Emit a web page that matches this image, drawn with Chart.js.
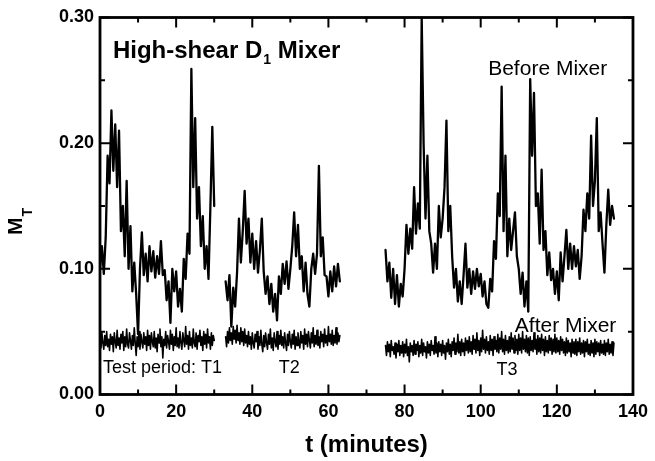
<!DOCTYPE html>
<html>
<head>
<meta charset="utf-8">
<script src="https://cdn.jsdelivr.net/npm/chart.js@4.4.1/dist/chart.umd.min.js"></script>
<style>
  html, body { margin: 0; padding: 0; background: #fff; }
  canvas { display: block; }
</style>
</head>
<body>
<canvas id="chart" width="655" height="461"></canvas>
<script>
// Axis tick values (minutes / mixing index)
const xTickValues = [0, 20, 40, 60, 80, 100, 120, 140];
const xMinorValues = [10, 30, 50, 70, 90, 110, 130];
const yTickValues = [0.0, 0.1, 0.2, 0.3];
const yMinorValues = [0.05, 0.15, 0.25];

// Sampling intervals (minutes) and start of each test period
const beforeStep = 0.5;
const afterStep = 0.25;
const startT1 = 0;
const startT2 = 33;
const startT3 = 75;

// Mixing index M_T upstream of the mixer
const beforeT1 = [
  0.100, 0.118, 0.096, 0.125, 0.190, 0.168, 0.226, 0.178, 0.215, 0.165,
  0.210, 0.130, 0.150, 0.110, 0.170, 0.100, 0.134, 0.082, 0.105, 0.080,
  0.048, 0.100, 0.129, 0.095, 0.112, 0.090, 0.118, 0.098, 0.114, 0.093,
  0.110, 0.096, 0.122, 0.095, 0.099, 0.075, 0.090, 0.057, 0.100, 0.082,
  0.098, 0.070, 0.084, 0.066, 0.108, 0.092, 0.128, 0.112, 0.259, 0.165,
  0.220, 0.140, 0.165, 0.118, 0.142, 0.100, 0.118, 0.092, 0.150, 0.213,
  0.150
];
const beforeT2 = [
  0.090, 0.075, 0.095, 0.054, 0.085, 0.070, 0.097, 0.140, 0.105, 0.130,
  0.162, 0.120, 0.140, 0.105, 0.128, 0.100, 0.122, 0.097, 0.115, 0.140,
  0.098, 0.080, 0.094, 0.072, 0.088, 0.066, 0.080, 0.059, 0.094, 0.080,
  0.104, 0.088, 0.106, 0.084, 0.100, 0.118, 0.145, 0.110, 0.135, 0.100,
  0.110, 0.082, 0.105, 0.080, 0.070, 0.100, 0.112, 0.096, 0.112, 0.182,
  0.110, 0.125, 0.095, 0.094, 0.078, 0.098, 0.082, 0.102, 0.086, 0.104,
  0.090
];
const beforeT3 = [
  0.115, 0.090, 0.105, 0.077, 0.100, 0.072, 0.095, 0.070, 0.088, 0.078,
  0.100, 0.135, 0.112, 0.132, 0.116, 0.165, 0.128, 0.152, 0.132, 0.300,
  0.200, 0.140, 0.190, 0.130, 0.120, 0.097, 0.120, 0.100, 0.150, 0.125,
  0.140, 0.165, 0.218, 0.130, 0.150, 0.110, 0.085, 0.100, 0.074, 0.090,
  0.072, 0.095, 0.120, 0.085, 0.100, 0.080, 0.098, 0.084, 0.100, 0.086,
  0.096, 0.078, 0.090, 0.072, 0.069, 0.092, 0.082, 0.122, 0.108, 0.160,
  0.142, 0.245, 0.130, 0.190, 0.110, 0.140, 0.115, 0.130, 0.145, 0.110,
  0.100, 0.080, 0.097, 0.070, 0.090, 0.066, 0.251, 0.190, 0.240, 0.150,
  0.160, 0.120, 0.179, 0.115, 0.130, 0.095, 0.113, 0.091, 0.100, 0.080,
  0.098, 0.075, 0.113, 0.090, 0.110, 0.131, 0.100, 0.120, 0.100, 0.118,
  0.102, 0.115, 0.092, 0.110, 0.147, 0.130, 0.160, 0.140, 0.206, 0.150,
  0.170, 0.220, 0.130, 0.145, 0.120, 0.097, 0.135, 0.163, 0.135, 0.150,
  0.140
];

// Mixing index M_T downstream of the mixer
const afterT1 = [
  0.045, 0.037, 0.049, 0.041, 0.036, 0.047, 0.039, 0.050, 0.038, 0.044,
  0.035, 0.048, 0.040, 0.046, 0.034, 0.049, 0.042, 0.037, 0.051, 0.039,
  0.045, 0.036, 0.048, 0.041, 0.050, 0.035, 0.046, 0.038, 0.052, 0.040,
  0.037, 0.049, 0.043, 0.036, 0.047, 0.039, 0.053, 0.041, 0.031, 0.046,
  0.038, 0.050, 0.036, 0.048, 0.042, 0.037, 0.049, 0.040, 0.046, 0.035,
  0.051, 0.039, 0.047, 0.036, 0.049, 0.042, 0.038, 0.050, 0.037, 0.045,
  0.034, 0.048, 0.041, 0.052, 0.038, 0.046, 0.029, 0.044, 0.039, 0.050,
  0.037, 0.047, 0.042, 0.036, 0.051, 0.040, 0.048, 0.035, 0.046, 0.039,
  0.053, 0.038, 0.045, 0.037, 0.050, 0.041, 0.036, 0.049, 0.043, 0.038,
  0.054, 0.040, 0.047, 0.036, 0.050, 0.039, 0.045, 0.037, 0.052, 0.041,
  0.038, 0.049, 0.036, 0.047, 0.042, 0.051, 0.039, 0.046, 0.035, 0.050,
  0.040, 0.048, 0.037, 0.052, 0.041, 0.046, 0.036, 0.049, 0.039, 0.047,
  0.043
];
const afterT2 = [
  0.046, 0.038, 0.050, 0.041, 0.053, 0.043, 0.049, 0.040, 0.054, 0.044,
  0.051, 0.041, 0.055, 0.043, 0.049, 0.040, 0.053, 0.042, 0.050, 0.039,
  0.052, 0.041, 0.047, 0.038, 0.050, 0.040, 0.046, 0.036, 0.049, 0.041,
  0.037, 0.048, 0.042, 0.050, 0.036, 0.046, 0.039, 0.051, 0.040, 0.034,
  0.047, 0.038, 0.049, 0.041, 0.036, 0.048, 0.040, 0.052, 0.037, 0.045,
  0.035, 0.049, 0.042, 0.038, 0.050, 0.036, 0.047, 0.040, 0.051, 0.039,
  0.046, 0.037, 0.049, 0.041, 0.035, 0.048, 0.039, 0.050, 0.042, 0.037,
  0.048, 0.040, 0.051, 0.036, 0.046, 0.039, 0.049, 0.042, 0.037, 0.050,
  0.041, 0.047, 0.036, 0.052, 0.040, 0.048, 0.038, 0.050, 0.043, 0.037,
  0.049, 0.041, 0.053, 0.038, 0.047, 0.040, 0.051, 0.039, 0.046, 0.037,
  0.050, 0.042, 0.048, 0.038, 0.052, 0.041, 0.047, 0.039, 0.054, 0.042,
  0.048, 0.040, 0.051, 0.039, 0.047, 0.041, 0.053, 0.040, 0.049, 0.042,
  0.047
];
const afterT3 = [
  0.039, 0.031, 0.042, 0.034, 0.040, 0.030, 0.043, 0.035, 0.038, 0.032,
  0.041, 0.029, 0.040, 0.034, 0.043, 0.031, 0.039, 0.033, 0.042, 0.030,
  0.040, 0.033, 0.044, 0.031, 0.038, 0.026, 0.041, 0.034, 0.039, 0.031,
  0.043, 0.032, 0.040, 0.035, 0.042, 0.030, 0.039, 0.033, 0.044, 0.031,
  0.041, 0.034, 0.038, 0.029, 0.042, 0.033, 0.040, 0.031, 0.043, 0.035,
  0.039, 0.032, 0.046, 0.033, 0.041, 0.030, 0.042, 0.034, 0.040, 0.031,
  0.043, 0.033, 0.039, 0.028, 0.041, 0.034, 0.044, 0.032, 0.040, 0.030,
  0.042, 0.035, 0.045, 0.032, 0.041, 0.034, 0.048, 0.033, 0.042, 0.031,
  0.044, 0.034, 0.041, 0.031, 0.045, 0.035, 0.043, 0.033, 0.046, 0.034,
  0.042, 0.032, 0.047, 0.036, 0.044, 0.033, 0.049, 0.035, 0.043, 0.031,
  0.045, 0.034, 0.051, 0.036, 0.044, 0.033, 0.046, 0.035, 0.042, 0.032,
  0.047, 0.035, 0.044, 0.031, 0.046, 0.036, 0.043, 0.034, 0.048, 0.033,
  0.045, 0.036, 0.050, 0.034, 0.044, 0.032, 0.047, 0.035, 0.043, 0.033,
  0.046, 0.034, 0.049, 0.036, 0.045, 0.033, 0.047, 0.035, 0.044, 0.032,
  0.048, 0.035, 0.045, 0.033, 0.050, 0.036, 0.044, 0.034, 0.047, 0.033,
  0.045, 0.031, 0.046, 0.035, 0.043, 0.034, 0.049, 0.036, 0.044, 0.032,
  0.047, 0.034, 0.045, 0.033, 0.048, 0.035, 0.044, 0.031, 0.046, 0.034,
  0.043, 0.033, 0.047, 0.035, 0.045, 0.032, 0.044, 0.034, 0.048, 0.033,
  0.045, 0.034, 0.043, 0.032, 0.046, 0.035, 0.044, 0.033, 0.042, 0.031,
  0.045, 0.033, 0.043, 0.034, 0.041, 0.030, 0.044, 0.033, 0.042, 0.032,
  0.044, 0.031, 0.042, 0.034, 0.045, 0.032, 0.041, 0.033, 0.043, 0.030,
  0.042, 0.034, 0.044, 0.032, 0.040, 0.031, 0.043, 0.033, 0.041, 0.030,
  0.044, 0.032, 0.042, 0.034, 0.041, 0.031, 0.043, 0.033, 0.040, 0.032,
  0.043, 0.031, 0.041, 0.034, 0.044, 0.032, 0.040, 0.033, 0.042, 0.031,
  0.041
];

// Pair each reading with its time stamp
function timeSeries(values, start, step) {
  return values.map((v, i) => ({ x: start + i * step, y: v }));
}

const trace = (values, start, step, width) => ({
  data: timeSeries(values, start, step),
  borderColor: '#000',
  borderWidth: width,
  borderJoinStyle: 'round',
  borderCapStyle: 'round',
  pointRadius: 0,
  tension: 0,
  fill: false
});

const tickFont = { family: '"Liberation Sans", Arial, sans-serif', size: 18, weight: 'bold' };

// Box frame with inward-pointing major/minor ticks on all four sides
const framePlugin = {
  id: 'frame',
  afterDatasetsDraw(chart) {
    const { ctx, chartArea: a, scales: { x, y } } = chart;
    ctx.save();
    ctx.strokeStyle = '#000';
    ctx.lineCap = 'butt';
    ctx.lineWidth = 2;
    const xt = (vals, len) => vals.forEach(v => {
      const px = x.getPixelForValue(v);
      ctx.beginPath();
      ctx.moveTo(px, a.bottom); ctx.lineTo(px, a.bottom - len);
      ctx.moveTo(px, a.top); ctx.lineTo(px, a.top + len);
      ctx.stroke();
    });
    const yt = (vals, len) => vals.forEach(v => {
      const py = y.getPixelForValue(v);
      ctx.beginPath();
      ctx.moveTo(a.left, py); ctx.lineTo(a.left + len, py);
      ctx.moveTo(a.right, py); ctx.lineTo(a.right - len, py);
      ctx.stroke();
    });
    xt(xTickValues, 10); xt(xMinorValues, 5);
    yt(yTickValues, 10); yt(yMinorValues, 5);
    ctx.lineWidth = 2.8;
    ctx.strokeRect(a.left, a.top, a.right - a.left, a.bottom - a.top);
    ctx.restore();
  }
};

// Axis titles and in-plot labels
const labelPlugin = {
  id: 'labels',
  afterDraw(chart) {
    const { ctx, chartArea: a, scales: { x, y } } = chart;
    const sans = '"Liberation Sans", Arial, sans-serif';
    ctx.save();
    ctx.fillStyle = '#000';
    ctx.textBaseline = 'alphabetic';

    // x axis title
    ctx.font = 'bold 24px ' + sans;
    ctx.textAlign = 'center';
    ctx.fillText('t (minutes)', (a.left + a.right) / 2, a.bottom + 57.5);

    // y axis title M_T, rotated
    ctx.save();
    ctx.translate(a.left - 78, 235);
    ctx.rotate(-Math.PI / 2);
    ctx.textAlign = 'left';
    ctx.font = 'bold 21px ' + sans;
    ctx.fillText('M', 0, 0);
    const mw = ctx.measureText('M').width;
    ctx.font = 'bold 14px ' + sans;
    ctx.fillText('T', mw + 1, 10);
    ctx.restore();

    // plot title with subscript
    ctx.textAlign = 'left';
    let tx = x.getPixelForValue(3.4);
    const ty = y.getPixelForValue(0.2675);
    ctx.font = 'bold 24px ' + sans;
    ctx.fillText('High-shear D', tx, ty);
    tx += ctx.measureText('High-shear D').width + 1;
    ctx.font = 'bold 14px ' + sans;
    ctx.fillText('1', tx, ty + 6);
    tx += ctx.measureText('1').width;
    ctx.font = 'bold 24px ' + sans;
    ctx.fillText(' Mixer', tx, ty);

    // series and period labels
    const put = (text, t, v, size, align) => {
      ctx.font = size + 'px ' + sans;
      ctx.textAlign = align;
      ctx.fillText(text, x.getPixelForValue(t), y.getPixelForValue(v));
    };
    put('Before Mixer', 117.6, 0.254, 21, 'center');
    put('After Mixer', 122.3, 0.0497, 21, 'center');
    put('Test period: T1', 0.8, 0.0171, 18, 'left');
    put('T2', 49.7, 0.0171, 18, 'center');
    put('T3', 106.9, 0.0155, 18, 'center');
    ctx.restore();
  }
};

new Chart(document.getElementById('chart'), {
  type: 'line',
  data: {
    datasets: [
      trace(beforeT1, startT1, beforeStep, 2.3),
      trace(beforeT2, startT2, beforeStep, 2.3),
      trace(beforeT3, startT3, beforeStep, 2.3),
      trace(afterT1, startT1, afterStep, 1.6),
      trace(afterT2, startT2, afterStep, 1.6),
      trace(afterT3, startT3, afterStep, 1.6)
    ]
  },
  options: {
    responsive: false,
    animation: false,
    devicePixelRatio: 1,
    layout: { padding: { top: 17.5, right: 17, left: 0, bottom: 0 } },
    plugins: { legend: { display: false }, tooltip: { enabled: false } },
    scales: {
      x: {
        type: 'linear',
        min: 0, max: 140,
        afterBuildTicks: s => { s.ticks = xTickValues.map(v => ({ value: v })); },
        afterFit: s => { s.height = 66.5; },
        grid: { display: false, drawTicks: false },
        border: { display: false },
        ticks: { font: tickFont, color: '#000', padding: 7, maxRotation: 0, autoSkip: false,
                  callback: v => String(v) }
      },
      y: {
        type: 'linear',
        min: 0, max: 0.3,
        afterBuildTicks: s => { s.ticks = yTickValues.map(v => ({ value: v })); },
        afterFit: s => { s.width = 100; },
        grid: { display: false, drawTicks: false },
        border: { display: false },
        ticks: { font: tickFont, color: '#000', padding: 6, autoSkip: false,
                 callback: v => Number(v).toFixed(2) }
      }
    }
  },
  plugins: [framePlugin, labelPlugin]
});
</script>
</body>
</html>
